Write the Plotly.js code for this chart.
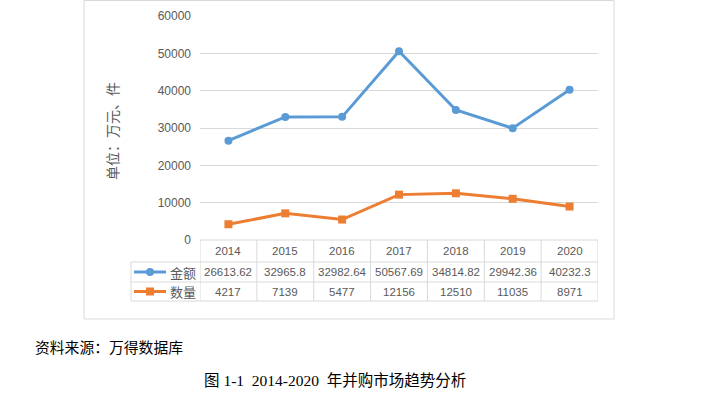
<!DOCTYPE html>
<html>
<head>
<meta charset="utf-8">
<script src="https://cdn.plot.ly/plotly-3.0.1.min.js"></script>
<style>html,body{margin:0;padding:0;background:#fff;}#chart{width:702px;height:393px;}</style>
</head>
<body>
<div id="chart"></div>
<script>
const years = ['2014','2015','2016','2017','2018','2019','2020'];
const amount = [26613.62, 32965.8, 32982.64, 50567.69, 34814.82, 29942.36, 40232.3];
const count = [4217, 7139, 5477, 12156, 12510, 11035, 8971];
const seriesNames = ['金额', '数量'];
const yTicks = [0, 10000, 20000, 30000, 40000, 50000, 60000];

const W = 702, H = 393;
const L = 200, R = 598, T = 16, B = 240;
const px = x => (x - L) / (R - L);
const py = y => (B - y) / (B - T);

const blue = '#5B9BD5', orange = '#ED7D31';
const grid = '#D9D9D9', txt = '#595959';
const numFont = {family: 'Liberation Sans, Noto Sans CJK SC, sans-serif', size: 11.5, color: txt};
const cjkFont = {family: 'Noto Sans CJK SC, sans-serif', size: 13, color: txt};

const traces = [
  {x: years, y: amount, name: seriesNames[0], type: 'scatter', mode: 'lines+markers',
   line: {color: blue, width: 3}, marker: {symbol: 'circle', size: 8, color: blue}},
  {x: years, y: count, name: seriesNames[1], type: 'scatter', mode: 'lines+markers',
   line: {color: orange, width: 3}, marker: {symbol: 'square', size: 8, color: orange}}
];

const shapes = [];
const annotations = [];
const line = (x0, y0, x1, y1, xref, color, w) => shapes.push({type: 'line', xref: xref || 'paper', yref: 'paper', x0, y0, x1, y1, line: {color: color || grid, width: w || 1}});

// outer frame
shapes.push({type: 'rect', xref: 'paper', yref: 'paper', x0: px(84), x1: px(614), y0: py(319), y1: py(0.5), line: {color: grid, width: 1}});

// table rows
const rowY = [240, 262, 282, 301];
line(px(200), py(rowY[0]), px(R), py(rowY[0]));
for (let i = 1; i < rowY.length; i++) line(px(131), py(rowY[i]), px(R), py(rowY[i]));
line(px(131), py(rowY[1]), px(131), py(rowY[3]));
for (let i = 0; i <= years.length; i++) line(i - 0.5, py(rowY[0]), i - 0.5, py(rowY[3]), 'x');

// table contents
const rows = [amount, count];
years.forEach((yr, i) => {
  annotations.push({x: i, xref: 'x', yref: 'paper', y: py(251), text: yr, showarrow: false, font: numFont, xanchor: 'center', yanchor: 'middle'});
  rows.forEach((arr, r) => {
    annotations.push({x: i, xref: 'x', yref: 'paper', y: py(r === 0 ? 272 : 291.5), text: String(arr[i]), showarrow: false, font: numFont, xanchor: 'center', yanchor: 'middle'});
  });
});

// legend keys inside table
[[blue, 'circle', 272, seriesNames[0]], [orange, 'square', 291.5, seriesNames[1]]].forEach(([c, sym, yy, name]) => {
  line(px(134), py(yy), px(166), py(yy), 'paper', c, 3);
  const m = {xref: 'paper', yref: 'paper', x0: px(146), x1: px(154), y0: py(yy + 4), y1: py(yy - 4), fillcolor: c, line: {width: 0}};
  m.type = sym === 'circle' ? 'circle' : 'rect';
  shapes.push(m);
  annotations.push({xref: 'paper', yref: 'paper', x: px(198), y: py(yy), text: name, showarrow: false, font: cjkFont, xanchor: 'right', yanchor: 'middle'});
});

// y-axis title
annotations.push({xref: 'paper', yref: 'paper', x: px(112), y: py(131), text: '单位：万元、件', textangle: -90, showarrow: false,
  font: {family: 'Noto Sans CJK SC, sans-serif', size: 14, color: txt}, xanchor: 'center', yanchor: 'middle'});

// captions
annotations.push({xref: 'paper', yref: 'paper', x: px(33), y: py(348), text: '资料来源：万得数据库', showarrow: false,
  font: {family: 'Liberation Serif, Noto Sans CJK SC, serif', size: 14.8, color: '#000'}, xanchor: 'left', yanchor: 'middle'});
annotations.push({xref: 'paper', yref: 'paper', x: px(335), y: py(380), text: '图 1-1  2014-2020  年并购市场趋势分析', showarrow: false,
  font: {family: 'Liberation Serif, Noto Sans CJK SC, serif', size: 15.5, color: '#000'}, xanchor: 'center', yanchor: 'middle'});

const layout = {
  width: W, height: H,
  margin: {l: L, r: W - R, t: T, b: H - B, pad: 0},
  paper_bgcolor: '#fff', plot_bgcolor: '#fff',
  showlegend: false,
  xaxis: {type: 'category', range: [-0.5, 6.5], showticklabels: false, showgrid: false, zeroline: false, showline: false, ticks: ''},
  yaxis: {range: [0, 60000], tickvals: yTicks, ticktext: yTicks.map(String), showgrid: true, gridcolor: grid, gridwidth: 1,
    zeroline: false, showline: false, ticks: '', ticklabelstandoff: 8,
    tickfont: {family: 'Liberation Sans, sans-serif', size: 12, color: txt}},
  shapes, annotations
};

Plotly.newPlot('chart', traces, layout, {displayModeBar: false, staticPlot: true});
</script>
</body>
</html>
